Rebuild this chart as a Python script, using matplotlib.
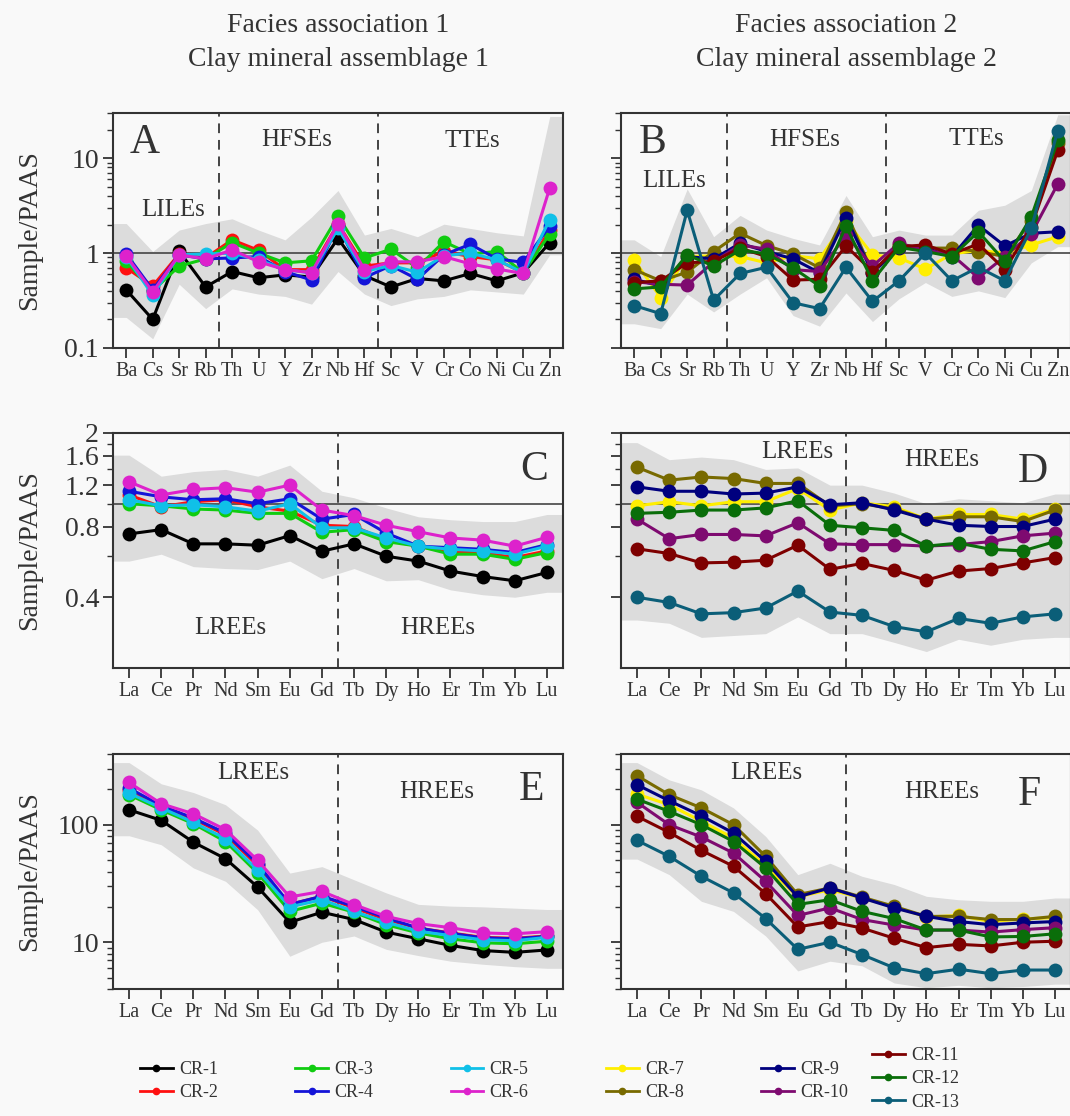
import numpy as np
import matplotlib
matplotlib.use("Agg")
import matplotlib.pyplot as plt
from matplotlib.ticker import FixedLocator, NullFormatter, LogLocator
from matplotlib.lines import Line2D

# ---------------------------------------------------------------- data
trace_elements = ["Ba", "Cs", "Sr", "Rb", "Th", "U", "Y", "Zr", "Nb", "Hf",
                  "Sc", "V", "Cr", "Co", "Ni", "Cu", "Zn"]
ree_elements = ["La", "Ce", "Pr", "Nd", "Sm", "Eu", "Gd", "Tb", "Dy", "Ho",
                "Er", "Tm", "Yb", "Lu"]

samples_left = ["CR-1", "CR-2", "CR-3", "CR-4", "CR-5", "CR-6"]
samples_right = ["CR-7", "CR-8", "CR-9", "CR-10", "CR-11", "CR-12", "CR-13"]

# A: trace elements, CR-1 .. CR-6
panel_a = [
    [0.41, 0.20, 1.05, 0.44, 0.64, 0.55, 0.59, 0.56, 1.43, 0.58, 0.44, 0.54, 0.51, 0.61, 0.51, 0.62, 1.29],
    [0.70, 0.45, 0.98, 0.89, 1.38, 1.07, 0.67, 0.67, 2.05, 0.73, 0.79, 0.79, 1.04, 0.92, 0.85, 0.62, 1.75],
    [0.82, 0.40, 0.73, 0.87, 1.29, 1.00, 0.79, 0.83, 2.45, 0.89, 1.10, 0.70, 1.32, 0.98, 1.04, 0.62, 1.60],
    [0.98, 0.41, 0.96, 0.87, 0.89, 0.92, 0.64, 0.52, 1.93, 0.55, 0.74, 0.53, 0.96, 1.24, 0.87, 0.80, 1.93],
    [0.92, 0.36, 0.96, 0.98, 1.00, 0.85, 0.67, 0.62, 1.82, 0.64, 0.74, 0.63, 0.94, 1.00, 0.85, 0.62, 2.26],
    [0.94, 0.39, 0.96, 0.87, 1.08, 0.81, 0.67, 0.62, 2.05, 0.67, 0.81, 0.81, 0.92, 0.77, 0.68, 0.61, 4.87],
]
band_a_hi = [2.05, 1.04, 1.75, 2.05, 2.3, 1.75, 1.38, 2.4, 4.57, 1.55, 1.82, 1.49, 2.02, 1.82, 1.64, 1.52, 27.6]
band_a_lo = [0.21, 0.125, 0.47, 0.26, 0.42, 0.37, 0.35, 0.29, 0.64, 0.37, 0.28, 0.33, 0.35, 0.41, 0.39, 0.37, 0.96]

# B: trace elements, CR-7 .. CR-13
panel_b = [
    [0.84, 0.34, 0.92, 0.94, 0.92, 0.79, 0.94, 0.87, 2.20, 0.96, 0.89, 0.68, 0.98, 1.07, 1.00, 1.22, 1.49],
    [0.67, 0.51, 0.63, 1.04, 1.62, 1.20, 0.98, 0.70, 2.71, 0.62, 1.22, 1.13, 1.13, 1.04, 0.92, 2.20, 14.5],
    [0.53, 0.45, 0.92, 0.87, 1.27, 1.04, 0.87, 0.62, 2.37, 0.62, 1.13, 1.13, 0.92, 1.97, 1.19, 1.62, 1.68],
    [0.50, 0.47, 0.46, 0.81, 1.22, 1.10, 0.67, 0.64, 1.55, 0.73, 1.27, 1.08, 0.96, 0.55, 0.92, 1.60, 5.36],
    [0.49, 0.51, 0.79, 0.82, 1.13, 0.92, 0.52, 0.53, 1.19, 0.64, 1.17, 1.22, 0.98, 1.25, 0.67, 1.90, 12.1],
    [0.42, 0.44, 0.96, 0.73, 1.08, 0.98, 0.70, 0.45, 1.93, 0.51, 1.15, 1.04, 0.92, 1.68, 0.82, 2.41, 15.4],
    [0.28, 0.23, 2.83, 0.32, 0.61, 0.71, 0.30, 0.26, 0.71, 0.31, 0.51, 1.00, 0.51, 0.71, 0.51, 1.82, 19.6],
]
band_b_hi = [1.38, 0.92, 4.75, 1.49, 2.5, 1.75, 1.43, 1.22, 4.05, 1.49, 1.75, 1.55, 1.55, 2.83, 3.2, 4.57, 28.7]
band_b_lo = [0.18, 0.16, 0.37, 0.24, 0.37, 0.55, 0.22, 0.17, 0.38, 0.19, 0.33, 0.49, 0.35, 0.40, 0.34, 0.79, 1.17]

# C: REE, CR-1 .. CR-6
panel_c = [
    [0.744, 0.776, 0.675, 0.675, 0.666, 0.732, 0.628, 0.675, 0.598, 0.570, 0.517, 0.49, 0.47, 0.51],
    [1.09, 0.97, 1.02, 1.04, 0.97, 0.93, 0.81, 0.80, 0.70, 0.66, 0.62, 0.62, 0.59, 0.63],
    [1.00, 0.98, 0.95, 0.94, 0.91, 0.91, 0.756, 0.776, 0.69, 0.66, 0.61, 0.61, 0.58, 0.62],
    [1.13, 1.07, 1.04, 1.05, 1.00, 1.05, 0.86, 0.90, 0.75, 0.66, 0.65, 0.64, 0.62, 0.67],
    [1.04, 0.98, 0.99, 0.97, 0.93, 1.00, 0.79, 0.79, 0.715, 0.66, 0.64, 0.63, 0.61, 0.66],
    [1.24, 1.09, 1.15, 1.17, 1.12, 1.20, 0.94, 0.89, 0.81, 0.76, 0.715, 0.70, 0.66, 0.72],
]
band_c_hi = [1.61, 1.31, 1.37, 1.40, 1.31, 1.46, 1.13, 1.06, 0.96, 0.88, 0.855, 0.84, 0.84, 0.90]
band_c_lo = [0.57, 0.61, 0.54, 0.53, 0.525, 0.57, 0.48, 0.53, 0.47, 0.475, 0.43, 0.41, 0.40, 0.42]

# D: REE, CR-7 .. CR-13
panel_d = [
    [0.98, 1.02, 0.98, 1.02, 1.02, 1.16, 0.94, 1.01, 0.97, 0.86, 0.90, 0.90, 0.86, 0.95],
    [1.43, 1.26, 1.30, 1.28, 1.22, 1.22, 0.98, 1.00, 0.95, 0.86, 0.88, 0.88, 0.84, 0.94],
    [1.18, 1.13, 1.13, 1.10, 1.11, 1.18, 0.99, 1.01, 0.94, 0.86, 0.81, 0.80, 0.80, 0.86],
    [0.86, 0.71, 0.74, 0.74, 0.73, 0.83, 0.675, 0.67, 0.67, 0.66, 0.67, 0.69, 0.73, 0.75],
    [0.643, 0.614, 0.56, 0.564, 0.575, 0.666, 0.526, 0.557, 0.52, 0.473, 0.517, 0.53, 0.56, 0.59],
    [0.91, 0.92, 0.94, 0.94, 0.96, 1.03, 0.81, 0.79, 0.77, 0.66, 0.68, 0.64, 0.63, 0.69],
    [0.40, 0.38, 0.34, 0.344, 0.36, 0.425, 0.346, 0.335, 0.30, 0.285, 0.325, 0.31, 0.33, 0.34],
]
band_d_hi = [1.82, 1.54, 1.58, 1.54, 1.40, 1.42, 1.20, 1.20, 1.11, 1.00, 1.05, 1.03, 1.01, 1.10]
band_d_lo = [0.32, 0.31, 0.27, 0.275, 0.28, 0.33, 0.28, 0.28, 0.257, 0.235, 0.265, 0.25, 0.265, 0.27]

# E: REE, CR-1 .. CR-6
panel_e = [
    [134, 109, 71, 51.4, 29.5, 14.8, 18.0, 15.6, 12.2, 10.7, 9.4, 8.5, 8.2, 8.6],
    [198, 143, 112, 82, 45, 21.0, 24.6, 19.6, 15.6, 13.2, 12.0, 11.0, 10.8, 11.3],
    [180, 134, 102, 72, 38.8, 18.3, 21.5, 18.0, 14.1, 12.0, 10.7, 9.9, 9.7, 10.2],
    [205, 145, 114, 85, 46.6, 21.0, 24.6, 20.2, 16.1, 13.2, 11.9, 10.9, 10.7, 11.2],
    [186, 139, 105, 76, 41, 20.0, 23.0, 18.3, 14.8, 12.4, 11.4, 10.5, 10.3, 11.0],
    [229, 151, 124, 90.7, 49.8, 24.3, 27.1, 20.9, 16.6, 14.4, 13.3, 12.0, 11.8, 12.3],
]
band_e_hi = [338, 223, 188, 148, 90, 38.8, 44, 34, 26.3, 21, 20.3, 20, 19.5, 19]
band_e_lo = [80.6, 67.6, 42.9, 33, 18.9, 7.6, 10, 11.3, 8.7, 7.7, 6.9, 6.5, 6.2, 6.0]

# F: REE, CR-7 .. CR-13
panel_f = [
    [182, 148, 107, 77, 44.8, 24.3, 28, 23.8, 20.0, 16.4, 16.9, 15.0, 15.8, 16.2],
    [261, 180, 139, 100, 53.8, 25.4, 29, 24.2, 20.2, 16.6, 16.6, 15.6, 15.6, 16.6],
    [219, 160, 119, 85, 48.8, 24.3, 29, 23.8, 19.6, 16.6, 15.0, 14.1, 14.6, 15.0],
    [155, 100, 78.6, 57.4, 33, 16.9, 19.6, 15.6, 14.0, 12.7, 12.7, 12.2, 12.8, 13.3],
    [118, 86, 60.5, 44.3, 25.9, 13.5, 15.0, 13.2, 10.8, 9.0, 9.6, 9.3, 10.0, 10.2],
    [165, 130, 100, 72, 42.9, 21.0, 23, 18.3, 15.9, 12.7, 12.7, 11.1, 11.2, 11.8],
    [73.6, 53.8, 36.4, 26.3, 15.9, 8.7, 10.0, 7.85, 6.05, 5.4, 5.9, 5.4, 5.8, 5.8],
]
band_f_hi = [338, 241, 198, 139, 79.6, 37.6, 47, 36.4, 31, 24.6, 23, 22.3, 22.3, 23.8]
band_f_lo = [51, 37.6, 22.3, 18.3, 11.3, 5.7, 6.9, 6.3, 4.5, 4.1, 4.3, 4.1, 4.2, 4.4]

# ---------------------------------------------------------------- style
colors = {
    "CR-1": "#000000", "CR-2": "#ff1010", "CR-3": "#10cc10", "CR-4": "#1414d8",
    "CR-5": "#10c0e8", "CR-6": "#dd22cc", "CR-7": "#ffee00", "CR-8": "#786a00",
    "CR-9": "#00007e", "CR-10": "#7e0a70", "CR-11": "#7e0000", "CR-12": "#0a6e0a",
    "CR-13": "#0b5e78",
}
BG = "#f9f9f9"
BAND = "#dcdcdc"
INK = "#333333"

plt.rcParams.update({
    "font.family": ["Liberation Serif", "DejaVu Serif"],
    "axes.linewidth": 1.5,
    "axes.edgecolor": INK,
    "xtick.color": INK,
    "ytick.color": INK,
    "text.color": INK,
})

fig = plt.figure(figsize=(10.7, 11.16), dpi=100, facecolor=BG)

W = 1070.0
H = 1116.0
col_left = [113 / W, 621 / W]
col_w = 450 / W
row_top = [113, 433, 754]
row_h = 235 / H


def make_axes(row, col):
    bottom = 1 - (row_top[row] + 235) / H
    ax = fig.add_axes([col_left[col], bottom, col_w, row_h])
    ax.set_facecolor(BG)
    return ax


def draw_panel(ax, elements, series, names, band_hi, band_lo, ylim, dividers, hline):
    n = len(elements)
    x = np.arange(n)
    xe = np.r_[-0.5, x, n - 0.5]
    hi = np.r_[band_hi[0], band_hi, band_hi[-1]]
    lo = np.r_[band_lo[0], band_lo, band_lo[-1]]
    ax.fill_between(xe, lo, hi, color=BAND, lw=0, zorder=0)
    if hline:
        ax.axhline(1.0, color="#444444", lw=1.2, zorder=1)
    for d in dividers:
        ax.axvline(d, color="#444444", lw=1.4, ls=(0, (5, 3.5)), zorder=1)
    for vals, name in zip(series, names):
        ax.plot(x, vals, color=colors[name], lw=2.2, marker="o", ms=10,
                mec=colors[name], mew=0, zorder=3)
    ax.set_yscale("log")
    ax.set_ylim(*ylim)
    ax.set_xlim(-0.5, n - 0.5)
    ax.set_xticks(x)
    ax.set_xticklabels(elements, fontsize=14.5)
    ax.tick_params(axis="x", direction="out", length=7, width=1.3, pad=3)
    ax.tick_params(axis="y", which="major", direction="out", length=7,
                   width=1.3, labelsize=20, pad=3)
    ax.tick_params(axis="y", which="minor", direction="out", length=4, width=1.0)


def set_yticks(ax, major, labels, minor, show):
    ax.yaxis.set_major_locator(FixedLocator(major))
    ax.yaxis.set_minor_locator(minor)
    ax.yaxis.set_minor_formatter(NullFormatter())
    if show:
        ax.set_yticklabels(labels)
    else:
        ax.set_yticklabels([])


def log_minor():
    return LogLocator(base=10, subs=np.arange(2, 10))


# row 1
ax_a = make_axes(0, 0)
draw_panel(ax_a, trace_elements, panel_a, samples_left, band_a_hi, band_a_lo,
           (0.1, 30), [3.5, 9.5], True)
set_yticks(ax_a, [0.1, 1, 10], ["0.1", "1", "10"], log_minor(), True)

ax_b = make_axes(0, 1)
draw_panel(ax_b, trace_elements, panel_b, samples_right, band_b_hi, band_b_lo,
           (0.1, 30), [3.5, 9.5], True)
set_yticks(ax_b, [0.1, 1, 10], [], log_minor(), False)

# row 2
ree_major = [0.4, 0.8, 1.2, 1.6, 2.0]
ree_minor = [0.6, 1.0, 1.4, 1.8]
ax_c = make_axes(1, 0)
draw_panel(ax_c, ree_elements, panel_c, samples_left, band_c_hi, band_c_lo,
           (0.2, 2.0), [6.5], True)
set_yticks(ax_c, ree_major, ["0.4", "0.8", "1.2", "1.6", "2"],
           FixedLocator(ree_minor), True)

ax_d = make_axes(1, 1)
draw_panel(ax_d, ree_elements, panel_d, samples_right, band_d_hi, band_d_lo,
           (0.2, 2.0), [6.5], True)
set_yticks(ax_d, ree_major, [], FixedLocator(ree_minor), False)

# row 3
ax_e = make_axes(2, 0)
draw_panel(ax_e, ree_elements, panel_e, samples_left, band_e_hi, band_e_lo,
           (4, 400), [6.5], False)
set_yticks(ax_e, [10, 100], ["10", "100"], log_minor(), True)

ax_f = make_axes(2, 1)
draw_panel(ax_f, ree_elements, panel_f, samples_right, band_f_hi, band_f_lo,
           (4, 400), [6.5], False)
set_yticks(ax_f, [10, 100], [], log_minor(), False)

# ---------------------------------------------------------------- annotations
letter_kw = dict(fontsize=30, va="center", ha="center")
group_kw = dict(fontsize=18, va="center", ha="center")

ax_a.text(0.07, 0.872, "A", transform=ax_a.transAxes, **letter_kw)
ax_a.text(0.133, 0.587, "LILEs", transform=ax_a.transAxes, **group_kw)
ax_a.text(0.409, 0.885, "HFSEs", transform=ax_a.transAxes, **group_kw)
ax_a.text(0.798, 0.881, "TTEs", transform=ax_a.transAxes, **group_kw)

ax_b.text(0.07, 0.872, "B", transform=ax_b.transAxes, **letter_kw)
ax_b.text(0.117, 0.711, "LILEs", transform=ax_b.transAxes, **group_kw)
ax_b.text(0.409, 0.885, "HFSEs", transform=ax_b.transAxes, **group_kw)
ax_b.text(0.790, 0.889, "TTEs", transform=ax_b.transAxes, **group_kw)

ax_c.text(0.936, 0.843, "C", transform=ax_c.transAxes, **letter_kw)
ax_c.text(0.26, 0.17, "LREEs", transform=ax_c.transAxes, **group_kw)
ax_c.text(0.722, 0.17, "HREEs", transform=ax_c.transAxes, **group_kw)

ax_d.text(0.915, 0.834, "D", transform=ax_d.transAxes, **letter_kw)
ax_d.text(0.391, 0.919, "LREEs", transform=ax_d.transAxes, **group_kw)
ax_d.text(0.713, 0.885, "HREEs", transform=ax_d.transAxes, **group_kw)

ax_e.text(0.931, 0.847, "E", transform=ax_e.transAxes, **letter_kw)
ax_e.text(0.311, 0.919, "LREEs", transform=ax_e.transAxes, **group_kw)
ax_e.text(0.72, 0.838, "HREEs", transform=ax_e.transAxes, **group_kw)

ax_f.text(0.907, 0.826, "F", transform=ax_f.transAxes, **letter_kw)
ax_f.text(0.322, 0.919, "LREEs", transform=ax_f.transAxes, **group_kw)
ax_f.text(0.713, 0.838, "HREEs", transform=ax_f.transAxes, **group_kw)

for yc in [230.5, 550.5, 871.5]:
    fig.text(30 / W, 1 - yc / H, "Sample/PAAS", rotation=90, fontsize=20,
             ha="center", va="center")

fig.text(338 / W, 1 - 25 / H, "Facies association 1", fontsize=20, ha="center", va="center")
fig.text(338 / W, 1 - 60 / H, "Clay mineral assemblage 1", fontsize=20, ha="center", va="center")
fig.text(846 / W, 1 - 25 / H, "Facies association 2", fontsize=20, ha="center", va="center")
fig.text(846 / W, 1 - 60 / H, "Clay mineral assemblage 2", fontsize=20, ha="center", va="center")

# ---------------------------------------------------------------- legend
def handle(name):
    return Line2D([], [], color=colors[name], lw=2.0, marker="o", ms=4.5)


first = samples_left + samples_right[:4]
fig.legend([handle(s) for s in first], first, ncol=5, frameon=False,
           loc="upper left", bbox_to_anchor=(140 / W, 1 - 1061 / H),
           fontsize=13, handlelength=1.8, handletextpad=0.35,
           columnspacing=4.3, labelspacing=0.35, borderpad=0,
           borderaxespad=0)
last = samples_right[4:]
fig.legend([handle(s) for s in last], last, ncol=1, frameon=False,
           loc="upper left", bbox_to_anchor=(872 / W, 1 - 1047 / H),
           fontsize=13, handlelength=1.8, handletextpad=0.35,
           labelspacing=0.35, borderpad=0, borderaxespad=0)

fig.savefig("out.png", dpi=100, facecolor=BG)
